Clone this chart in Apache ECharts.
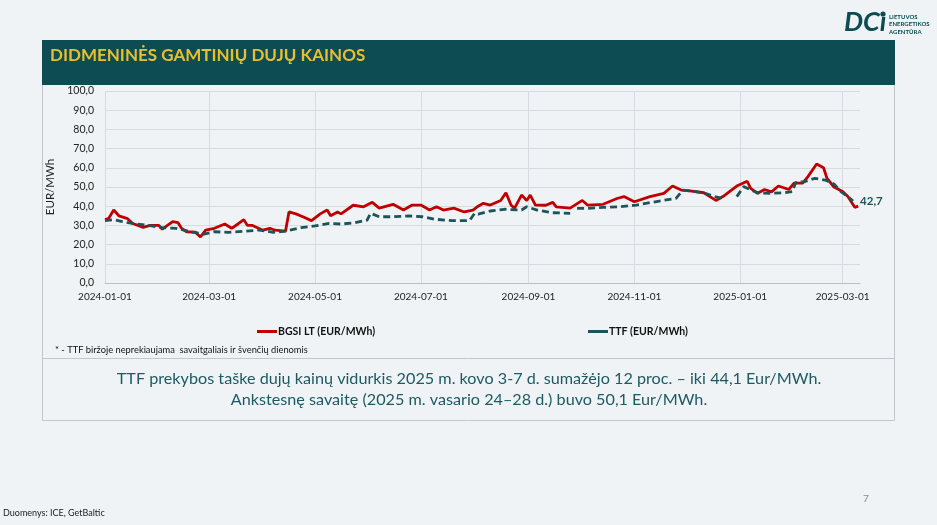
<!DOCTYPE html>
<html><head><meta charset="utf-8">
<script src="https://cdn.jsdelivr.net/npm/echarts@6/dist/echarts.min.js"></script>
<style>
html,body{margin:0;padding:0;background:#eff3f6;}
#c{width:937px;height:525px;}
</style></head>
<body><div id="c"></div>
<script>
// ---- data ----
const bgsiDates = ['2024-01-01','2024-01-03','2024-01-06','2024-01-09','2024-01-14','2024-01-17','2024-01-23','2024-01-27','2024-02-01','2024-02-03','2024-02-09','2024-02-12','2024-02-14','2024-02-17','2024-02-22','2024-02-25','2024-02-28','2024-03-04','2024-03-10','2024-03-14','2024-03-18','2024-03-21','2024-03-23','2024-03-26','2024-04-01','2024-04-05','2024-04-08','2024-04-14','2024-04-16','2024-04-20','2024-04-24','2024-04-29','2024-05-04','2024-05-08','2024-05-10','2024-05-14','2024-05-16','2024-05-23','2024-05-29','2024-06-03','2024-06-07','2024-06-15','2024-06-21','2024-06-26','2024-07-01','2024-07-06','2024-07-10','2024-07-14','2024-07-20','2024-07-26','2024-07-31','2024-08-03','2024-08-06','2024-08-10','2024-08-16','2024-08-19','2024-08-22','2024-08-24','2024-08-28','2024-08-31','2024-09-02','2024-09-05','2024-09-11','2024-09-15','2024-09-17','2024-09-25','2024-10-02','2024-10-05','2024-10-14','2024-10-22','2024-10-26','2024-11-01','2024-11-10','2024-11-18','2024-11-23','2024-11-28','2024-12-03','2024-12-11','2024-12-18','2024-12-22','2024-12-30','2025-01-05','2025-01-07','2025-01-11','2025-01-15','2025-01-19','2025-01-23','2025-01-29','2025-02-01','2025-02-06','2025-02-09','2025-02-14','2025-02-18','2025-02-20','2025-02-24','2025-03-01','2025-03-04','2025-03-08','2025-03-10'];
const bgsiValues = [33,33.5,38,35,33.5,31,29,30,30,28,32,31.5,28.6,26.7,26.5,24,27.5,28.5,30.7,28.5,31,33,30,30,27.5,28.5,27.5,27,37,36,34.5,32.5,36,38,35,37,36,40.5,39.7,42,39,41,38,40.6,40.6,38,39.7,38,39,37,38,40,41.5,40.6,43,47,40.5,39,45.8,43,45.8,40.6,40.5,42,39.7,39,43,40.6,41,44,45,42.3,45,46.7,50.5,48.4,48,47,43,45,50.5,53,49.3,46.7,48.7,47.5,50.5,48.7,52,52,55.4,62,60,54.5,50,47.6,45,39.4,40];

const ttfDates = ['2024-01-01','2024-01-06','2024-01-11','2024-01-19','2024-01-27','2024-02-03','2024-02-11','2024-02-19','2024-02-27','2024-03-04','2024-03-12','2024-03-22','2024-03-30','2024-04-07','2024-04-14','2024-04-23','2024-05-01','2024-05-09','2024-05-16','2024-05-24','2024-05-31','2024-06-02','2024-06-07','2024-06-14','2024-06-24','2024-07-02','2024-07-09','2024-07-19','2024-07-29','2024-08-01','2024-08-03','2024-08-10','2024-08-18','2024-08-28','2024-08-31','2024-09-06','2024-09-15','2024-09-25','2024-09-27','2024-09-29','2024-10-05','2024-10-14','2024-10-24','2024-11-02','2024-11-13','2024-11-25','2024-11-29','2024-12-03','2024-12-11','2024-12-17','2024-12-22','2024-12-26','2024-12-30','2025-01-03','2025-01-11','2025-01-19','2025-01-26','2025-01-31','2025-02-02','2025-02-07','2025-02-13','2025-02-19','2025-02-24','2025-02-28','2025-03-04','2025-03-07'];
const ttfValues = [32.5,33,32,30.7,29.9,28.8,28.5,26.7,25.5,26.7,26.4,27,27.6,26.4,27,28.8,29.7,31,30.7,31.4,32.8,36.3,34.5,34.5,34.9,34.5,33.2,32.5,32.5,36.3,35.9,37.5,38.4,38,39.7,38,36.6,36.3,null,38.9,38.9,39.4,39.7,40.6,42.3,44.1,48.4,48,47,45,44.1,null,45,50.2,47,46.7,47,47.6,52.4,52.8,54.5,53.6,51.6,47.6,45,42.7];

const xTickDates = ['2024-01-01','2024-03-01','2024-05-01','2024-07-01','2024-09-01','2024-11-01','2025-01-01','2025-03-01'];
const seriesNames = ['BGSI LT (EUR/MWh)','TTF (EUR/MWh)'];

const toTs = d => new Date(d + 'T00:00:00Z').getTime();
const fmtDate = v => { const d = new Date(v); const p = n => String(n).padStart(2,'0'); return d.getUTCFullYear()+'-'+p(d.getUTCMonth()+1)+'-'+p(d.getUTCDate()); };
const comma = v => Number(v).toFixed(1).replace('.', ',');

const chart = echarts.init(document.getElementById('c'), null, {renderer:'canvas'});
const FONT = 'Lato, "Open Sans", sans-serif';

chart.setOption({
  backgroundColor: '#eff3f6',
  animation: false,
  textStyle: {fontFamily: FONT},
  grid: {left: 105, right: 77, top: 91, bottom: 242, containLabel: false},
  xAxis: {
    type: 'value',
    min: toTs('2024-01-01'),
    max: toTs('2025-03-11'),
    axisLine: {show: true, lineStyle: {color: '#bfbfbf'}},
    axisTick: {show: false, customValues: xTickDates.map(toTs)},
    axisLabel: {customValues: xTickDates.map(toTs), formatter: v => fmtDate(v), color: '#222', fontSize: 10, margin: 9, fontFamily: FONT},
    splitLine: {show: true, lineStyle: {color: '#d6dbe0', width: 1}}
  },
  yAxis: {
    type: 'value', min: 0, max: 100, interval: 10,
    name: 'EUR/MWh', nameLocation: 'middle', nameRotate: 90, nameGap: 35,
    nameTextStyle: {fontSize: 11.5, color: '#222', fontFamily: FONT},
    axisLine: {show: false}, axisTick: {show: false},
    axisLabel: {formatter: v => comma(v), color: '#222', fontSize: 10.5, margin: 11, fontFamily: FONT},
    splitLine: {lineStyle: {color: '#d6dbe0', width: 1}}
  },
  legend: [
    {data: [seriesNames[0]], left: 252, top: 321, icon: 'rect', itemWidth: 20, itemHeight: 3, itemGap: 2,
     textStyle: {fontSize: 10.5, fontWeight: 'bold', color: '#111', fontFamily: FONT, padding: [0,0,0,-4]}},
    {data: [seriesNames[1]], left: 583, top: 321, icon: 'rect', itemWidth: 20, itemHeight: 3, itemGap: 2,
     textStyle: {fontSize: 10.5, fontWeight: 'bold', color: '#111', fontFamily: FONT, padding: [0,0,0,-4]}}
  ],
  series: [
    {name: seriesNames[0], type: 'line', symbol: 'none', color: '#c00000',
     lineStyle: {width: 2.8, color: '#c00000'},
     data: bgsiDates.map((d,i) => [toTs(d), bgsiValues[i]]), z: 3},
    {name: seriesNames[1], type: 'line', symbol: 'none', color: '#1d5459',
     lineStyle: {width: 2.8, color: '#1d5459', type: [7,4]}, connectNulls: false,
     data: ttfDates.map((d,i) => [toTs(d), ttfValues[i]]), z: 4,
     endLabel: {show: true, formatter: p => comma(p.value[1]), color: '#1d5459', fontWeight: 'bold', fontSize: 11.5, distance: 7, fontFamily: FONT}}
  ],
  graphic: [
    {type: 'rect', shape: {x: 42.5, y: 40.5, width: 852, height: 380}, style: {fill: 'none', stroke: '#c3c7cb', lineWidth: 1}, z: 0},
    {type: 'line', shape: {x1: 42, y1: 358.5, x2: 895, y2: 358.5}, style: {stroke: '#c3c7cb', lineWidth: 1}},
    {type: 'rect', shape: {x: 42, y: 40, width: 853, height: 45}, style: {fill: '#0d4c53'}},
    {type: 'text', x: 50, y: 47, style: {text: 'DIDMENINĖS GAMTINIŲ DUJŲ KAINOS', fill: '#e9bf2f', font: 'bold 17px ' + FONT}},
    {type: 'text', x: 55, y: 345, style: {text: '* - TTF biržoje neprekiaujama  savaitgaliais ir švenčių dienomis', fill: '#111', font: '9.3px ' + FONT}},
    {type: 'text', x: 469, y: 371, style: {text: 'TTF prekybos taške dujų kainų vidurkis 2025 m. kovo 3-7 d. sumažėjo 12 proc. – iki 44,1 Eur/MWh.', fill: '#1d5a62', font: '16.2px ' + FONT, align: 'center'}},
    {type: 'text', x: 469, y: 392, style: {text: 'Ankstesnę savaitę (2025 m. vasario 24–28 d.) buvo 50,1 Eur/MWh.', fill: '#1d5a62', font: '16.2px ' + FONT, align: 'center'}},
    {type: 'text', x: 844, y: 9, style: {text: 'DCı', fill: '#0d4c53', font: 'italic bold 27px ' + FONT}},
    {type: 'circle', shape: {cx: 883, cy: 14, r: 2.6}, style: {fill: '#0d4c53'}},
    {type: 'text', x: 889, y: 13, style: {text: 'LIETUVOS\nENERGETIKOS\nAGENTŪRA', fill: '#0d4c53', font: 'bold 6px ' + FONT, lineHeight: 7.5}},
    {type: 'text', x: 3, y: 509, style: {text: 'Duomenys: ICE, GetBaltic', fill: '#222', font: '9px ' + FONT}},
    {type: 'text', x: 863, y: 494, style: {text: '7', fill: '#888', font: '10px ' + FONT}}
  ]
});
</script></body></html>
